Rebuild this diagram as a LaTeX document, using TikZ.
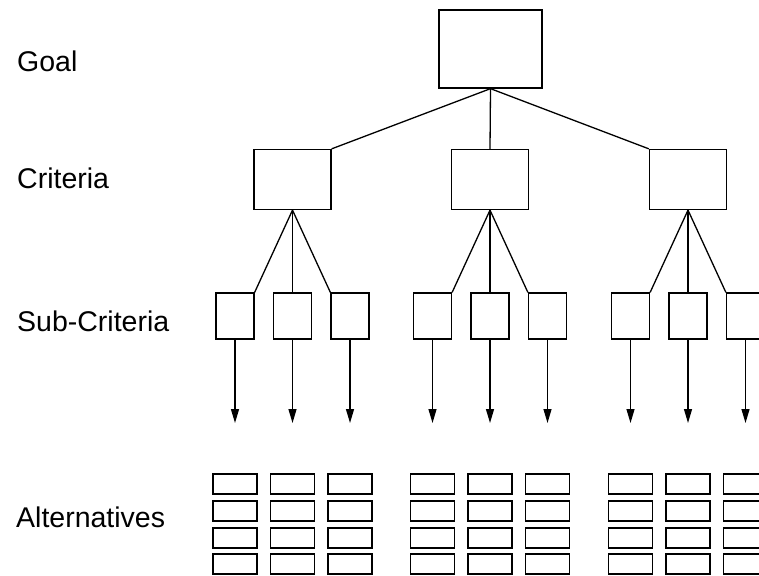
\documentclass[tikz,border=0pt]{standalone}
\usepackage{fontspec}
\setmainfont{Liberation Sans}
\usetikzlibrary{arrows.meta}
\begin{document}
\begin{tikzpicture}[x=1pt,y=-1pt,
  box/.style={draw, line width=1.3pt, inner sep=0pt},
  goalbox/.style={box, minimum width=103pt, minimum height=78pt},
  critbox/.style={box, minimum width=77pt, minimum height=60pt},
  subbox/.style={box, minimum width=38pt, minimum height=46pt},
  altbox/.style={box, minimum width=44pt, minimum height=20pt},
  link/.style={line width=1.3pt},
  flow/.style={line width=1.3pt, -{Triangle[length=14pt,width=8pt]}},
  level/.style={anchor=base west, inner sep=0pt, font=\fontsize{28.5}{32}\selectfont}]
\useasboundingbox (0,0) rectangle (759,575);
\clip (0,0) rectangle (759,575);

% level labels
\node[level] (lgoal) at (17,72) {Goal};
\node[level] (lcrit) at (17,188) {Criteria};
\node[level] (lsub)  at (17,331) {Sub-Criteria};
\node[level] (lalt)  at (16,527) {Alternatives};

% goal
\node[goalbox] (goal) at (490.5,49) {};

\foreach \g/\cx in {1/292.5,2/490,3/688}{
  % criterion
  \node[critbox] (c\g) at (\cx,179.5) {};
  % sub-criteria
  \foreach \s/\dx in {1/-57.5,2/0,3/57.5}{
    \node[subbox] (s\g\s) at (\cx+\dx,316) {};
    \coordinate (t\g\s) at (\cx+\dx,423);
    \draw[flow] (s\g\s.south) -- (t\g\s);
    % alternatives
    \foreach \r/\ry in {1/484,2/511,3/538,4/564}{
      \node[altbox] (a\g\s\r) at (\cx+\dx,\ry) {};
    }
  }
  \draw[link] (c\g.south) -- (s\g1.north east);
  \draw[link] (c\g.south) -- (s\g2.north);
  \draw[link] (c\g.south) -- (s\g3.north west);
}

\draw[link] (goal.south) -- (c1.north east);
\draw[link] (goal.south) -- (c2.north);
\draw[link] (goal.south) -- (c3.north west);
\end{tikzpicture}
\end{document}
